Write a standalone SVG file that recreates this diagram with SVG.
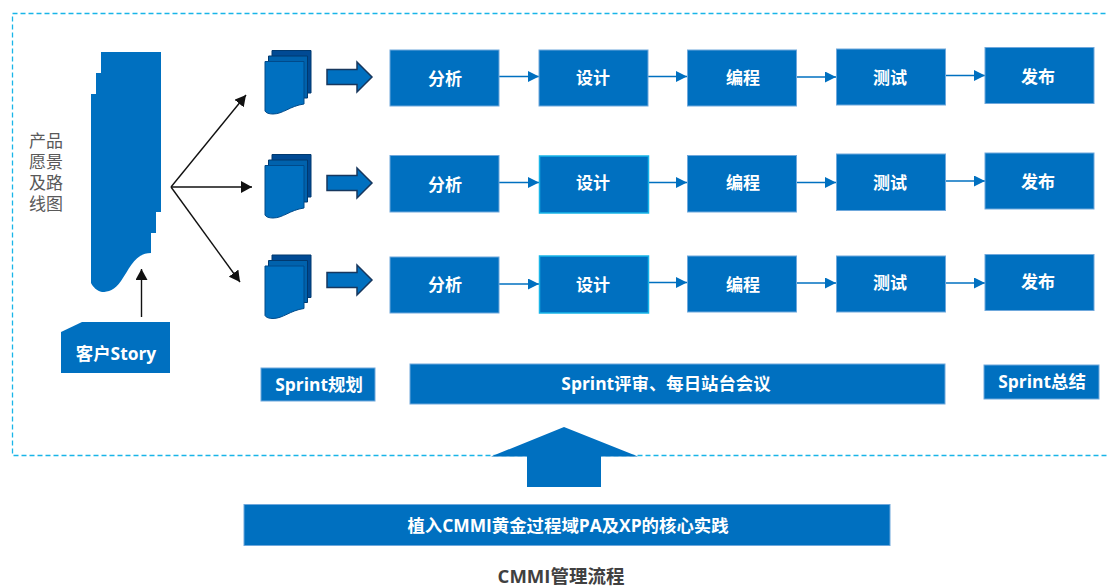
<svg xmlns="http://www.w3.org/2000/svg" xmlns:xlink="http://www.w3.org/1999/xlink" width="1108" height="586" viewBox="0 0 1108 586">
<style>
text{font-family:"Open Sans","Noto Sans CJK SC",sans-serif;text-anchor:middle;font-weight:600}
.w{fill:#fff;font-size:17px}
.s{fill:#fff;font-size:17.400px;font-weight:700}
.b{fill:#0070c0;stroke:#6fa8dc;stroke-width:1}
.c{fill:#0070c0;stroke:#19b5e8;stroke-width:1.5}
.f{fill:#0070c0}
.l{stroke:#0070c0;stroke-width:1.5;fill:none;marker-end:url(#mb)}
.k{stroke:#111;stroke-width:1.4;fill:none;marker-end:url(#mk)}
.ba{fill:#0070c0;stroke:#17375e;stroke-width:1.500}
.g{fill:#595959;font-size:17px;font-weight:400}
</style>
<defs>
<marker id="mb" markerUnits="userSpaceOnUse" markerWidth="11" markerHeight="11" refX="11" refY="5.5" orient="auto"><path d="M0 0L11 5.5L0 11z" fill="#0070c0"/></marker>
<marker id="mk" markerUnits="userSpaceOnUse" markerWidth="12" markerHeight="12" refX="11" refY="6" orient="auto"><path d="M0 0L11 6L0 12z" fill="#111"/></marker>
<g id="doc">
<path d="M272 50.500H311V93H272z" fill="#004a94" stroke="#00396f"/>
<path d="M268.500 56H307.500V98H268.500z" fill="#0062ad" stroke="#00396f"/>
<path d="M265 61.500H304V104C290 106 283 114 273 114C269 114 266 113 265 111z" fill="#0070c0" stroke="#004a8a" stroke-width="1"/>
</g>
<path id="ar" class="ba" d="M327 69.500H357V62L372 77L357 92V84.500H327z"/>
</defs>
<rect id="frame" x="12.500" y="13.500" width="1110" height="442" fill="none" stroke="#19b5e8" stroke-width="1.300" stroke-dasharray="5 3"/>

<g id="connectors">
<path class="k" d="M171 187L246 95"/>
<path class="k" d="M171 187H252"/>
<path class="k" d="M171 187L240 282"/>
<path class="k" d="M141.500 317V269"/>
<path class="l" d="M499 76.500H539"/><path class="l" d="M648 76.500H687"/><path class="l" d="M797 77H836"/><path class="l" d="M945 75.500H985"/>
<path class="l" d="M499 182.500H539"/><path class="l" d="M649 182.500H687"/><path class="l" d="M797 182.500H836"/><path class="l" d="M945 181H985"/>
<path class="l" d="M499 284H539"/><path class="l" d="M649 282.500H687"/><path class="l" d="M797 283H836"/><path class="l" d="M945 283H985"/>
</g>

<g id="roadmap">
<path class="f" d="M101 52H161V212H156V233H151V253C135 253 130 268 121 281C115 290 108 292 102 292C97 291 93 287 91 283V94H96V73H101z"/>
<text class="g" x="46" y="147">产品</text>
<text class="g" x="46" y="168">愿景</text>
<text class="g" x="46" y="189">及路</text>
<text class="g" x="46" y="210">线图</text>
</g>
<g id="story">
<path class="f" d="M61 332L82 322H170V373H61z"/>
<text class="s" x="116" y="360">客户Story</text>
</g>
<g id="plan1"><use xlink:href="#doc" href="#doc"/><use xlink:href="#ar" href="#ar"/></g>
<g id="plan2"><use xlink:href="#doc" href="#doc" y="104"/><use xlink:href="#ar" href="#ar" y="106"/></g>
<g id="plan3"><use xlink:href="#doc" href="#doc" y="204.500"/><use xlink:href="#ar" href="#ar" y="203"/></g>

<g id="r1-1"><rect class="b" x="390" y="50" width="109" height="56"/><text class="w" x="445" y="85">分析</text></g>
<g id="r1-2"><rect class="b" x="539" y="50" width="109" height="56"/><text class="w" x="593" y="84">设计</text></g>
<g id="r1-3"><rect class="b" x="687.500" y="50" width="109" height="56"/><text class="w" x="743" y="84">编程</text></g>
<g id="r1-4"><rect class="b" x="836.500" y="49" width="109" height="56"/><text class="w" x="890" y="84">测试</text></g>
<g id="r1-5"><rect class="b" x="985" y="47.500" width="109" height="56"/><text class="w" x="1038" y="83">发布</text></g>

<g id="r2-1"><rect class="b" x="390" y="155.500" width="109" height="56.500"/><text class="w" x="445" y="191">分析</text></g>
<g id="r2-2"><rect class="c" x="539.500" y="156" width="109" height="57"/><text class="w" x="593" y="189">设计</text></g>
<g id="r2-3"><rect class="b" x="687.500" y="155.500" width="109" height="56.500"/><text class="w" x="743" y="189">编程</text></g>
<g id="r2-4"><rect class="b" x="836.500" y="154" width="109" height="56.500"/><text class="w" x="890" y="189">测试</text></g>
<g id="r2-5"><rect class="b" x="985" y="153" width="109" height="56"/><text class="w" x="1038" y="188">发布</text></g>

<g id="r3-1"><rect class="b" x="390" y="257" width="109" height="56"/><text class="w" x="445" y="291">分析</text></g>
<g id="r3-2"><rect class="c" x="539.500" y="256" width="109" height="57"/><text class="w" x="593" y="291">设计</text></g>
<g id="r3-3"><rect class="b" x="687.500" y="256" width="109" height="56"/><text class="w" x="743" y="291">编程</text></g>
<g id="r3-4"><rect class="b" x="836.500" y="256" width="109" height="56"/><text class="w" x="890" y="289">测试</text></g>
<g id="r3-5"><rect class="b" x="985" y="254.500" width="109" height="56"/><text class="w" x="1038" y="288">发布</text></g>

<g id="sprint-plan"><rect class="b" x="261" y="368" width="114" height="33"/><text class="s" x="319" y="391">Sprint规划</text></g>
<g id="sprint-review"><rect class="b" x="410" y="364" width="535" height="40"/><text class="s" x="666" y="390">Sprint评审、每日站台会议</text></g>
<g id="sprint-summary"><rect class="b" x="984" y="365" width="115" height="34"/><text class="s" x="1042" y="388">Sprint总结</text></g>

<g id="up"><path class="f" d="M564 427L638 456.500H601V487H527V456.500H491z"/></g>
<g id="practice"><rect class="b" x="244" y="504.500" width="646" height="41"/><text class="s" x="568" y="532">植入CMMI黄金过程域PA及XP的核心实践</text></g>
<text x="561" y="583" fill="#404040" font-size="18.500" style="font-weight:700">CMMI管理流程</text>
</svg>
